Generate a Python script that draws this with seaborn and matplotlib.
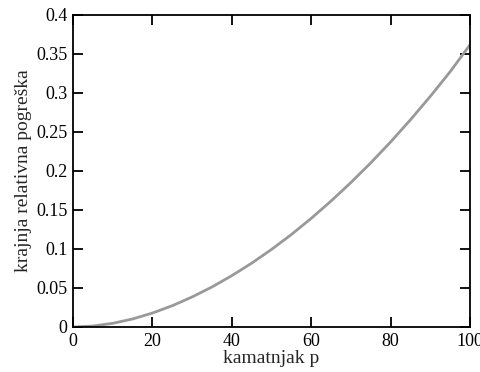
import numpy as np
import pandas as pd
import matplotlib
matplotlib.use("Agg")
import matplotlib.pyplot as plt
import seaborn as sns

# values
p = [0, 5, 10, 15, 20, 25, 30, 35, 40, 45, 50, 55, 60, 65, 70, 75, 80, 85, 90, 95, 100]
err = [0.0, 0.0012, 0.0047, 0.0103, 0.0179, 0.0273, 0.0385, 0.0513, 0.0658, 0.0818,
       0.0994, 0.1185, 0.1392, 0.1614, 0.1851, 0.2103, 0.2371, 0.2655, 0.2955, 0.3271, 0.3615]

data = pd.DataFrame({'p': p, 'err': err})

sns.set_style('ticks', {'xtick.direction': 'in', 'ytick.direction': 'in'})
plt.rcParams['font.family'] = ['Liberation Serif', 'DejaVu Serif']
plt.rcParams['xtick.direction'] = 'in'
plt.rcParams['ytick.direction'] = 'in'

fig = plt.figure(figsize=(4.81, 3.72), dpi=100)
ax = fig.add_axes([0.152, 0.121, 0.825, 0.839])

sns.lineplot(data=data, x='p', y='err', ax=ax, color='#999999', linewidth=2.0)

ax.set_xlim(0, 100)
ax.set_ylim(0, 0.4)
ax.set_xticks([0, 20, 40, 60, 80, 100])
ax.set_xticklabels(['0', '20', '40', '60', '80', '100'])
ax.set_yticks([0, 0.05, 0.1, 0.15, 0.2, 0.25, 0.3, 0.35, 0.4])
ax.set_yticklabels(['0', '0.05', '0.1', '0.15', '0.2', '0.25', '0.3', '0.35', '0.4'])
ax.tick_params(which='both', direction='in', length=7, width=1.3, top=True, right=True,
               labelsize=13, colors='black', pad=4)
for s in ax.spines.values():
    s.set_linewidth(1.3)
    s.set_color('black')

ax.set_xlabel('kamatnjak p', fontsize=14, labelpad=0)
ax.set_ylabel('krajnja relativna pogreška', fontsize=14, labelpad=3)

fig.savefig('out.png', dpi=100)
